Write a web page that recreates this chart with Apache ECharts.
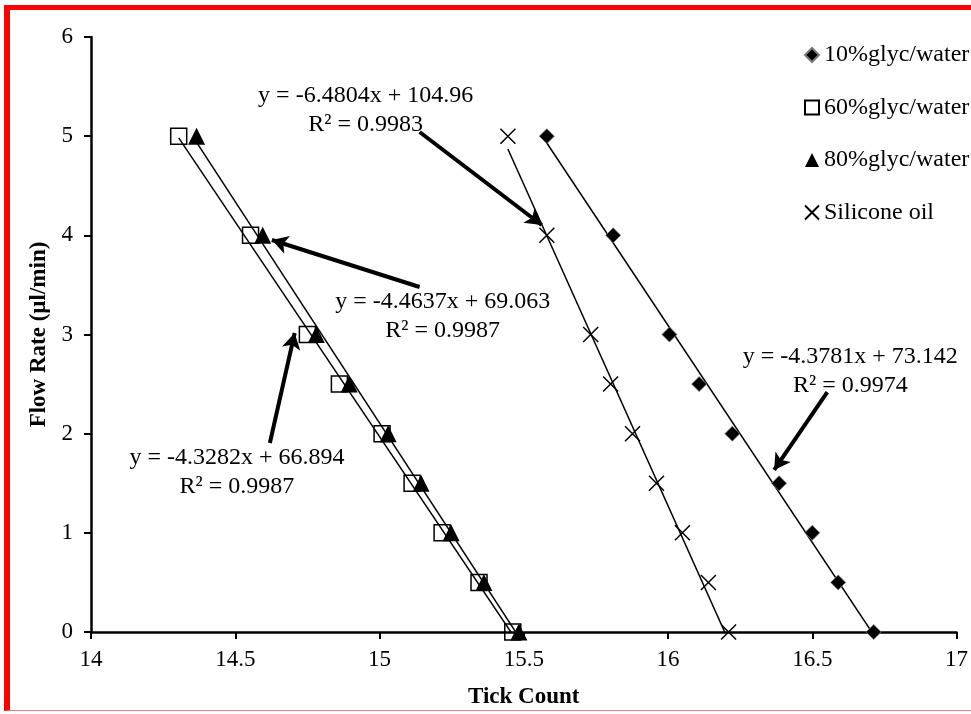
<!DOCTYPE html>
<html>
<head>
<meta charset="utf-8">
<script src="https://cdn.jsdelivr.net/npm/echarts@6/dist/echarts.min.js"></script>
<style>
  html, body { margin: 0; padding: 0; background: #fff; }
  .frame {
    position: absolute; left: 4px; top: 5px; width: 967px; height: 706px;
    border-top: 5px solid #ff0000; border-left: 6px solid #ff0000; border-bottom: 1px solid #f08080;
    box-sizing: border-box; pointer-events: none; z-index: 2;
  }
  #chart { position: absolute; left: 0; top: 0; width: 971px; height: 714px; }
</style>
</head>
<body>
<div id="chart"></div>
<div class="frame"></div>
<script>
// 流量 (µl/min)
const flowRates = [5, 4, 3, 2.5, 2, 1.5, 1, 0.5, 0];
// tick count for each fluid
const glyc10 = [15.58, 15.81, 16.005, 16.108, 16.223, 16.385, 16.50, 16.59, 16.713];
const glyc60 = [14.304, 14.553, 14.75, 14.861, 15.009, 15.113, 15.217, 15.345, 15.462];
const glyc80 = [14.366, 14.595, 14.781, 14.895, 15.03, 15.144, 15.248, 15.362, 15.483];
const silicone = [15.445, 15.58, 15.732, 15.801, 15.877, 15.96, 16.05, 16.14, 16.21];

const seriesNames = ['10%glyc/water', '60%glyc/water', '80%glyc/water', 'Silicone oil'];
// trendline coefficients (y = slope * x + intercept) and R²
const slopes = [-4.3781, -4.3282, -4.4637, -6.4804];
const intercepts = [73.142, 66.894, 69.063, 104.96];
const r2 = ['0.9974', '0.9987', '0.9987', '0.9983'];

const xTicks = [14, 14.5, 15, 15.5, 16, 16.5, 17];

const FONT = '"Liberation Serif", "Times New Roman", serif';
const crossPath = 'path://M0,0 L10,10 M10,0 L0,10';

const chart = echarts.init(document.getElementById('chart'));

function pairs(xs) {
  return xs.map((x, i) => [x, flowRates[i]]);
}
function trend(xs, k) {
  const lo = Math.min(...xs);
  const hi = Math.max(...xs);
  return [[lo, slopes[k] * lo + intercepts[k]], [hi, slopes[k] * hi + intercepts[k]]];
}

const all = [glyc10, glyc60, glyc80, silicone];
const symbols = ['diamond', 'rect', 'triangle', crossPath];
const symbolSizes = [15, 16, 17, 15];
const itemStyles = [
  { color: '#000', borderColor: '#7a7a7a', borderWidth: 0.8, opacity: 1 },
  { color: 'rgba(255,255,255,0)', borderColor: '#000', borderWidth: 1.5, opacity: 1 },
  { color: '#000', borderColor: '#000', borderWidth: 0, opacity: 1 },
  { color: 'rgba(0,0,0,0)', borderColor: '#000', borderWidth: 1.5, opacity: 1 },
];
const seriesZ = [5, 5, 6, 5];

// 箭头 (tail -> head, in data coords)
const arrows = [
  [[15.139, 5.042], [15.562, 4.104]],
  [[15.139, 3.479], [14.627, 3.953]],
  [[14.620, 1.906], [14.706, 3.015]],
  [[16.552, 2.420], [16.368, 1.634]],
];
// 拟合公式文字 center in data coords: [seriesIndex, x, y]
const eqLabels = [
  [3, 14.952, 5.26],
  [2, 15.219, 3.186],
  [1, 14.506, 1.613],
  [0, 16.632, 2.632],
];

const series = [];
all.forEach((xs, k) => {
  series.push({
    name: seriesNames[k],
    type: 'scatter',
    data: pairs(xs),
    symbol: symbols[k],
    symbolSize: symbolSizes[k],
    itemStyle: itemStyles[k],
    clip: false,
    z: seriesZ[k],
  });
});
all.forEach((xs, k) => {
  series.push({
    type: 'line',
    data: trend(xs, k),
    showSymbol: false,
    symbol: 'none',
    lineStyle: { color: '#000', width: 1.5 },
    silent: true,
    z: 3,
  });
});
series.push({
  type: 'line',
  data: [],
  silent: true,
  markLine: {
    silent: true,
    symbol: ['none', 'arrow'],
    symbolSize: [14, 16],
    label: { show: false },
    lineStyle: { color: '#000', width: 4, type: 'solid' },
    data: arrows.map((a) => [{ coord: a[0] }, { coord: a[1] }]),
  },
});

chart.setOption({
  animation: false,
  grid: { left: 91, right: 13.5, top: 37, bottom: 82 },
  legend: {
    orient: 'vertical',
    left: 799,
    top: 38,
    itemGap: 28.5,
    itemWidth: 14,
    itemHeight: 14,
    data: seriesNames,
    textStyle: { fontFamily: FONT, fontSize: 24, lineHeight: 24, color: '#000' },
  },
  xAxis: {
    type: 'value',
    min: 14,
    max: 17,
    interval: 0.5,
    name: 'Tick Count',
    nameLocation: 'middle',
    nameGap: 54,
    nameTextStyle: { fontFamily: FONT, fontSize: 23, fontWeight: 'bold', color: '#000' },
    axisLine: { show: true, onZero: false, lineStyle: { color: '#000', width: 2.5 } },
    axisTick: { show: true, length: 7, lineStyle: { color: '#000', width: 2 } },
    axisLabel: {
      fontFamily: FONT, fontSize: 23, color: '#000', margin: 16,
      formatter: (v) => (xTicks.includes(v) ? String(v) : ''),
    },
    splitLine: { show: false },
  },
  yAxis: {
    type: 'value',
    min: 0,
    max: 6,
    interval: 1,
    name: 'Flow Rate (µl/min)',
    nameLocation: 'middle',
    nameGap: 40,
    nameTextStyle: { fontFamily: FONT, fontSize: 23, fontWeight: 'bold', color: '#000' },
    axisLine: { show: true, lineStyle: { color: '#000', width: 2.5 } },
    axisTick: { show: true, length: 7, lineStyle: { color: '#000', width: 2 } },
    axisLabel: { fontFamily: FONT, fontSize: 23, color: '#000', margin: 18 },
    splitLine: { show: false },
  },
  series: series,
});

// equation labels placed by data coords
const texts = eqLabels.map(([k, x, y]) => {
  const p = chart.convertToPixel({ gridIndex: 0 }, [x, y]);
  return {
    type: 'text',
    x: p[0],
    y: p[1],
    z: 10,
    style: {
      text: 'y = ' + slopes[k] + 'x + ' + intercepts[k] + '\nR² = ' + r2[k],
      font: '24px ' + FONT,
      fill: '#000',
      align: 'center',
      verticalAlign: 'middle',
      lineHeight: 29,
    },
  };
});
chart.setOption({ graphic: texts });
</script>
</body>
</html>
